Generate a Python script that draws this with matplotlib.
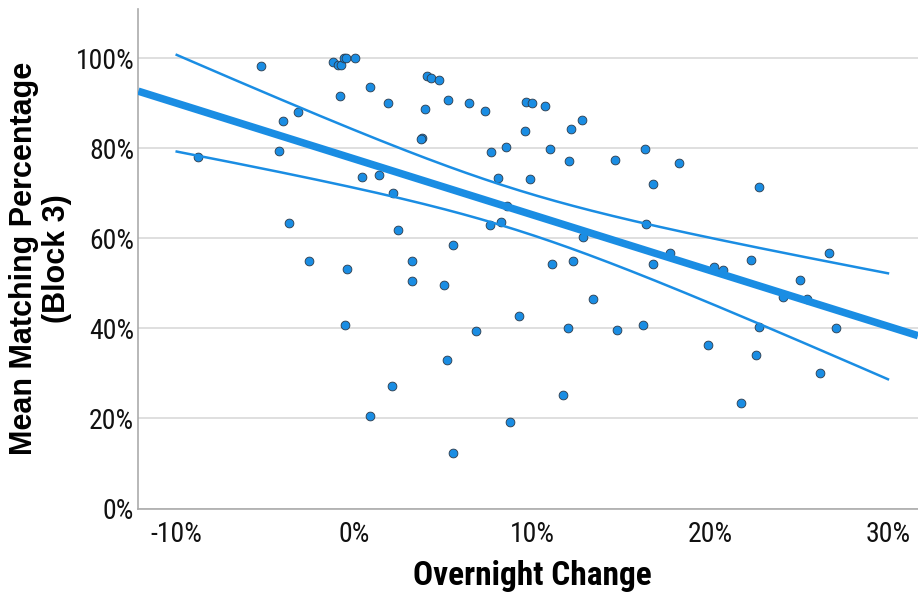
import numpy as np
import matplotlib
matplotlib.use("Agg")
import matplotlib.pyplot as plt
from matplotlib.ticker import FuncFormatter

# Overnight change (%) and mean matching percentage in block 3 (%)
overnight_change = [
    -8.80, -5.26, -4.25, -4.02, -3.68, -3.18, -2.56, -1.21, -0.93, -0.76,
    -0.59, -0.48, -0.82, 0.03, -0.42, 0.87, 1.88, 0.42, 1.38, 2.17,
    2.45, 3.23, 3.80, 3.74, 4.08, 4.30, 4.75, 3.97, 5.26, 6.44,
    5.54, 7.34, 7.68, 8.07, 8.52, 8.58, 7.62, 8.24, 9.65, 9.59,
    9.87, 9.98, 10.71, 12.18, 12.80, 11.00, 12.06, 14.65, 16.34, 18.25,
    16.79, 22.75, 12.85, 16.39, 11.11, 12.29, 17.74, 16.79, 20.22, 20.73,
    22.30, 26.69, 25.06, 24.10, 25.45, 9.25, 13.41, 12.01, 14.77, 16.23,
    22.75, 27.08, 19.88, 22.58, 26.18, 11.73, 21.74, 8.75, 3.23, 5.03,
    -0.53, 6.83, 5.20, 2.11, 0.87, 5.54,
]
matching_pct = [
    78.0, 98.2, 79.4, 86.0, 63.4, 88.0, 54.9, 99.1, 98.4, 98.4,
    100.0, 100.0, 91.6, 100.0, 53.2, 93.6, 90.0, 73.6, 74.0, 70.0,
    61.8, 54.9, 82.2, 82.0, 96.0, 95.6, 95.1, 88.8, 90.8, 90.1,
    58.5, 88.3, 79.1, 73.4, 80.2, 67.1, 62.9, 63.6, 90.2, 83.8,
    73.1, 90.0, 89.3, 84.2, 86.2, 79.8, 77.1, 77.4, 79.8, 76.7,
    72.0, 71.4, 60.3, 63.2, 54.3, 54.9, 56.7, 54.3, 53.6, 52.9,
    55.2, 56.7, 50.7, 46.9, 46.5, 42.7, 46.5, 40.1, 39.6, 40.7,
    40.3, 40.1, 36.3, 34.1, 30.1, 25.2, 23.4, 19.2, 50.5, 49.6,
    40.7, 39.4, 33.0, 27.2, 20.5, 12.3,
]
y_ticks = [0, 20, 40, 60, 80, 100]
x_ticks = [-10, 0, 10, 20, 30]

# Linear fit (total) and the x range of its 95% mean confidence band
fit_intercept = 77.6
fit_slope = -1.238
band_range = (-10, 30)

x = np.asarray(overnight_change)
y = np.asarray(matching_pct)

# Spread of the data around the fit, for the confidence band of the mean
n = len(x)
resid = y - (fit_intercept + fit_slope * x)
s = np.sqrt(np.sum(resid ** 2) / (n - 2))
xbar = x.mean()
sxx = np.sum((x - xbar) ** 2)
t_crit = 1.989  # t(0.975, df ~ 84)

blue = "#1a8de3"
plt.rcParams["font.family"] = ["Roboto Condensed", "Liberation Sans", "DejaVu Sans"]

fig = plt.figure(figsize=(9.18, 5.95), dpi=100)
ax = fig.add_axes([138.3 / 918, (595 - 508.5) / 595, (918 - 138.3) / 918, (508.5 - 9) / 595])

xlim = (-12.16, 31.69)
ax.set_xlim(*xlim)
ax.set_ylim(0, 110.9)

ax.set_yticks(y_ticks)
ax.set_xticks(x_ticks)
ax.yaxis.grid(True, color="#d9d9d9", linewidth=1.2, zorder=0)
ax.set_axisbelow(True)

for side in ("top", "right"):
    ax.spines[side].set_visible(False)
for side in ("left", "bottom"):
    ax.spines[side].set_color("#ababab")
    ax.spines[side].set_linewidth(1.2)

pct = FuncFormatter(lambda v, _: f"{v:.0f}%")
ax.xaxis.set_major_formatter(pct)
ax.yaxis.set_major_formatter(pct)
ax.tick_params(axis="both", length=0, labelsize=20, labelcolor="#111111")
ax.tick_params(axis="x", pad=9)
ax.tick_params(axis="y", pad=3)

# Fit line across the full axis width
xf = np.linspace(xlim[0], xlim[1], 200)
ax.plot(xf, fit_intercept + fit_slope * xf, color=blue, linewidth=5.4,
        solid_capstyle="butt", zorder=3)

# 95% confidence band of the mean
xb = np.linspace(band_range[0], band_range[1], 200)
half = t_crit * s * np.sqrt(1 / n + (xb - xbar) ** 2 / sxx)
yb = fit_intercept + fit_slope * xb
ax.plot(xb, yb + half, color=blue, linewidth=1.8, zorder=3)
ax.plot(xb, yb - half, color=blue, linewidth=1.8, zorder=3)

ax.scatter(x, y, s=40, facecolor=blue, edgecolor="#2b3a4a", linewidth=0.6, zorder=2)

ax.set_xlabel("Overnight Change", fontsize=24, fontweight="bold", va="top")
ax.xaxis.set_label_coords(0.506, -0.104)
ax.set_ylabel("Mean Matching Percentage\n(Block 3)", fontsize=22, fontweight="bold",
              family=["Liberation Sans", "DejaVu Sans"], linespacing=1.12)
ax.yaxis.set_label_coords(-0.085, 0.5)

fig.savefig("out.png", dpi=100)
